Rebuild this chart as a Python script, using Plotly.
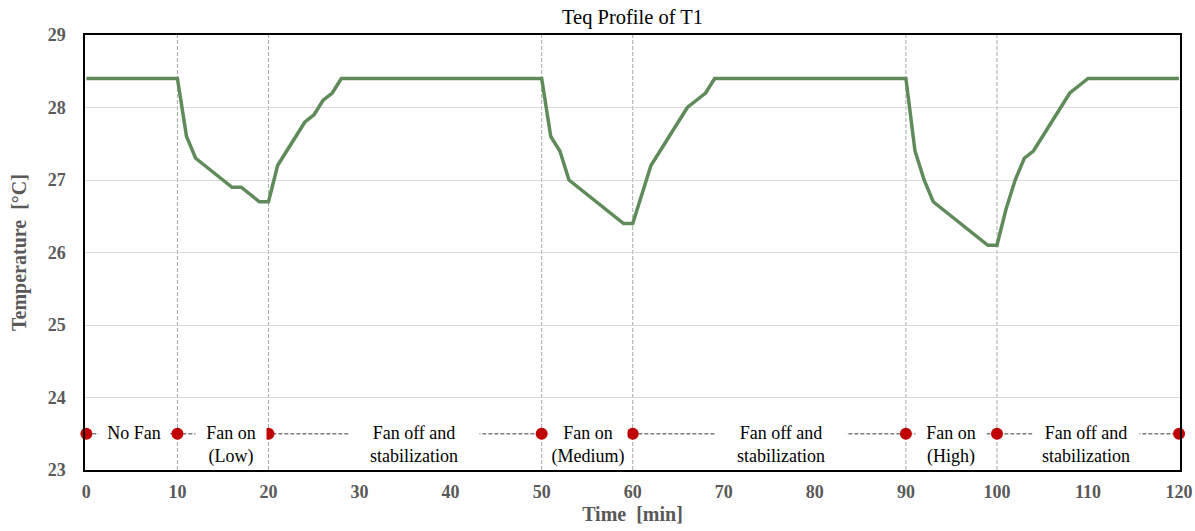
import plotly.graph_objects as go

# Time [min] and Teq of T1 [°C]
time_min = list(range(0, 121))
teq = (
    [28.4] * 11 +                                  # 0-10
    [27.6, 27.3, 27.2, 27.1, 27.0, 26.9, 26.9, 26.8, 26.7, 26.7] +   # 11-20
    [27.2, 27.4, 27.6, 27.8, 27.9, 28.1, 28.2] +   # 21-27
    [28.4] * 23 +                                  # 28-50
    [27.6, 27.4, 27.0, 26.9, 26.8, 26.7, 26.6, 26.5, 26.4, 26.4] +   # 51-60
    [26.8, 27.2, 27.4, 27.6, 27.8, 28.0, 28.1, 28.2] +               # 61-68
    [28.4] * 22 +                                  # 69-90
    [27.4, 27.0, 26.7, 26.6, 26.5, 26.4, 26.3, 26.2, 26.1, 26.1] +   # 91-100
    [26.6, 27.0, 27.3, 27.4, 27.6, 27.8, 28.0, 28.2, 28.3] +         # 101-109
    [28.4] * 11                                    # 110-120
)

# Phase markers
phase_bounds = [0, 10, 20, 50, 60, 90, 100, 120]
phase_marker_y = 23.5
phase_labels = ["No Fan", "Fan on<br>(Low)", "Fan off and<br>stabilization",
                "Fan on<br>(Medium)", "Fan off and<br>stabilization",
                "Fan on<br>(High)", "Fan off and<br>stabilization"]
label_x = [5.2, 15.9, 36.0, 55.1, 76.3, 94.9, 109.8]
label_gap_px = [68, 68, 128, 76, 128, 68, 104]
divider_x = [10, 20, 50, 60, 90, 100]

GRAY = "#595959"
FONT = "Liberation Serif, Times New Roman, serif"

fig = go.Figure()

# dashed connector line along phase markers
fig.add_trace(go.Scatter(
    x=phase_bounds, y=[phase_marker_y] * len(phase_bounds),
    mode="lines", line=dict(color="#7f7f7f", width=1.3, dash="4px,2px"),
    hoverinfo="skip", showlegend=False))

# main curve
fig.add_trace(go.Scatter(
    x=time_min, y=teq, mode="lines",
    line=dict(color="#5f8b5a", width=3.5),
    showlegend=False))

# vertical dividers
for xv in divider_x:
    fig.add_shape(type="line", xref="x", yref="paper", x0=xv, x1=xv, y0=0, y1=1,
                  line=dict(color="#a6a6a6", width=1, dash="4px,2px"), layer="below")

# phase labels (white boxes break the dashed connector)
for lx, lt, w in zip(label_x, phase_labels, label_gap_px):
    fig.add_annotation(x=lx, y=phase_marker_y, xref="x", yref="y",
                       text=lt, showarrow=False, bgcolor="white",
                       width=w, align="center",
                       yanchor="top", yshift=13,
                       font=dict(family=FONT, size=18, color="black"))

# red markers on top
fig.add_trace(go.Scatter(
    x=phase_bounds, y=[phase_marker_y] * len(phase_bounds),
    mode="markers", marker=dict(color="#c00000", size=12),
    hoverinfo="skip", showlegend=False, cliponaxis=False))

fig.update_layout(
    width=1195, height=531,
    margin=dict(l=85, r=15, t=35, b=61, autoexpand=False),
    paper_bgcolor="white", plot_bgcolor="white",
    title=dict(text="Teq Profile of T1", x=0.5, xref="paper", xanchor="center",
               y=0.982, yref="container", yanchor="top", automargin=False,
               font=dict(family=FONT, size=20.5, color="black")),
    xaxis=dict(range=[-0.15, 120.1], tickmode="array",
               tickvals=list(range(0, 121, 10)), automargin=False,
               showgrid=False, zeroline=False,
               showline=True, linecolor="black", linewidth=1.5, mirror=True,
               ticks="", ticklabelstandoff=5,
               tickfont=dict(family=FONT, size=18, color=GRAY, weight="bold"),
               title=dict(text="Time\u00a0 [min]", standoff=6,
                          font=dict(family=FONT, size=20, color=GRAY, weight="bold"))),
    yaxis=dict(range=[23, 29], tickmode="array", tickvals=list(range(23, 30)),
               showgrid=True, gridcolor="#d9d9d9", gridwidth=1.3, zeroline=False,
               automargin=False,
               showline=True, linecolor="black", linewidth=1.5, mirror=True,
               ticks="", ticklabelstandoff=14,
               tickfont=dict(family=FONT, size=18, color=GRAY, weight="bold"),
               title=dict(text="Temperature\u00a0 [°C]", standoff=16,
                          font=dict(family=FONT, size=20, color=GRAY, weight="bold"))),
)

fig.write_html("out.html")
